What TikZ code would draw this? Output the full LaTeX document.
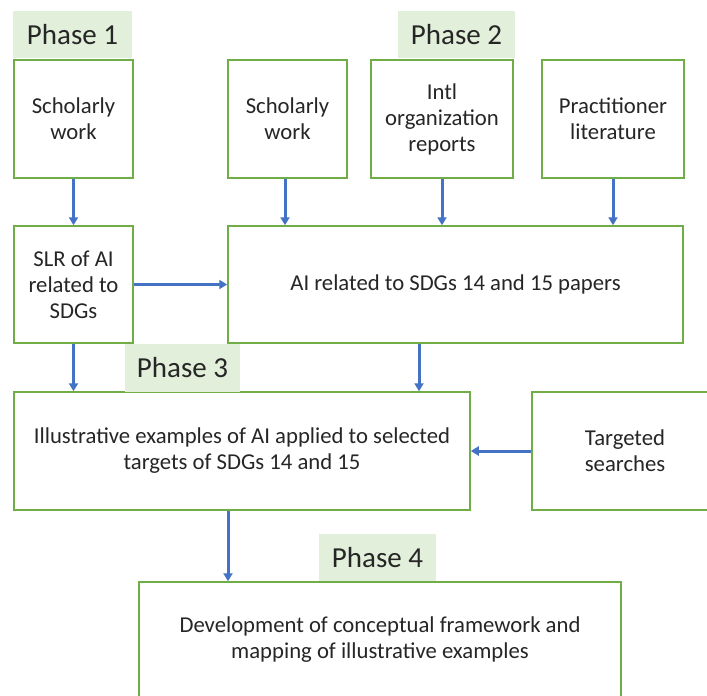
\documentclass[tikz,border=0pt]{standalone}
\usepackage{fontspec}
\setmainfont{Carlito}
\usetikzlibrary{arrows.meta}
\definecolor{boxgreen}{HTML}{70AD47}
\definecolor{phasefill}{HTML}{E2EFDA}
\definecolor{arrblue}{HTML}{4472C4}
\definecolor{txt}{HTML}{262626}
\tikzset{
  box/.style={draw=boxgreen, line width=1.5pt, fill=white, inner sep=0pt, align=center,
    text=txt, font=\fontsize{22.7}{26}\selectfont},
  phaselab/.style={fill=phasefill, inner sep=0pt, text=txt, font=\fontsize{29}{32}\selectfont},
  arr/.style={draw=arrblue, line width=3pt, -{Triangle[length=8pt,width=9pt]}}
}
\begin{document}
\begin{tikzpicture}[x=1pt,y=-1pt]
\useasboundingbox (0,0) rectangle (707,696);
\clip (0,0) rectangle (707,696);
% boxes
\node[box, minimum width=119pt, minimum height=118pt] (sw1) at (73.5,119) {Scholarly\\work};
\node[box, minimum width=119pt, minimum height=118pt] (sw2) at (287.5,119) {Scholarly\\work};
\node[box, minimum width=142pt, minimum height=118pt] (intl) at (442,119) {Intl\\organization\\reports};
\node[box, minimum width=142pt, minimum height=118pt] (prac) at (613,119) {Practitioner\\literature};
\node[box, minimum width=119pt, minimum height=117pt] (slr) at (73.5,284.5) {SLR of AI\\related to\\SDGs};
\node[box, minimum width=455pt, minimum height=117pt] (ai) at (455.5,284.5) {AI related to SDGs 14 and 15 papers};
\node[box, minimum width=456pt, minimum height=118pt] (ill) at (242,451) {Illustrative examples of AI applied to selected\\targets of SDGs 14 and 15};
\node[box, minimum width=186pt, minimum height=118pt] (tgt) at (625,451) {Targeted\\searches};
\node[box, minimum width=482pt, minimum height=116pt] (dev) at (380,640) {Development of conceptual framework and\\mapping of illustrative examples};
% phase labels
\node[phaselab, minimum width=119pt, minimum height=47pt] (p1) at (72.5,34.5) {Phase 1};
\node[phaselab, minimum width=117pt, minimum height=47pt] (p2) at (456.5,34.5) {Phase 2};
\node[phaselab, minimum width=115pt, minimum height=48pt] (p3) at (182.5,367.5) {Phase 3};
\node[phaselab, minimum width=117pt, minimum height=47pt] (p4) at (377.5,557.5) {Phase 4};
% arrows
\draw[arr] (sw1.south) -- (slr.north);
\draw[arr] ([xshift=-2.5pt]sw2.south) -- ([xshift=-2.5pt]sw2.south |- ai.north);
\draw[arr] (intl.south) -- (intl.south |- ai.north);
\draw[arr] (prac.south) -- (prac.south |- ai.north);
\draw[arr] (slr.east) -- (ai.west);
\draw[arr] (slr.south) -- (slr.south |- ill.north);
\draw[arr] ([xshift=-36.5pt]ai.south) -- ([xshift=-36.5pt]ai.south |- ill.north);
\draw[arr] (tgt.west) -- (ill.east);
\draw[arr] ([xshift=-14pt]ill.south) -- ([xshift=-14pt]ill.south |- dev.north);
\end{tikzpicture}
\end{document}
